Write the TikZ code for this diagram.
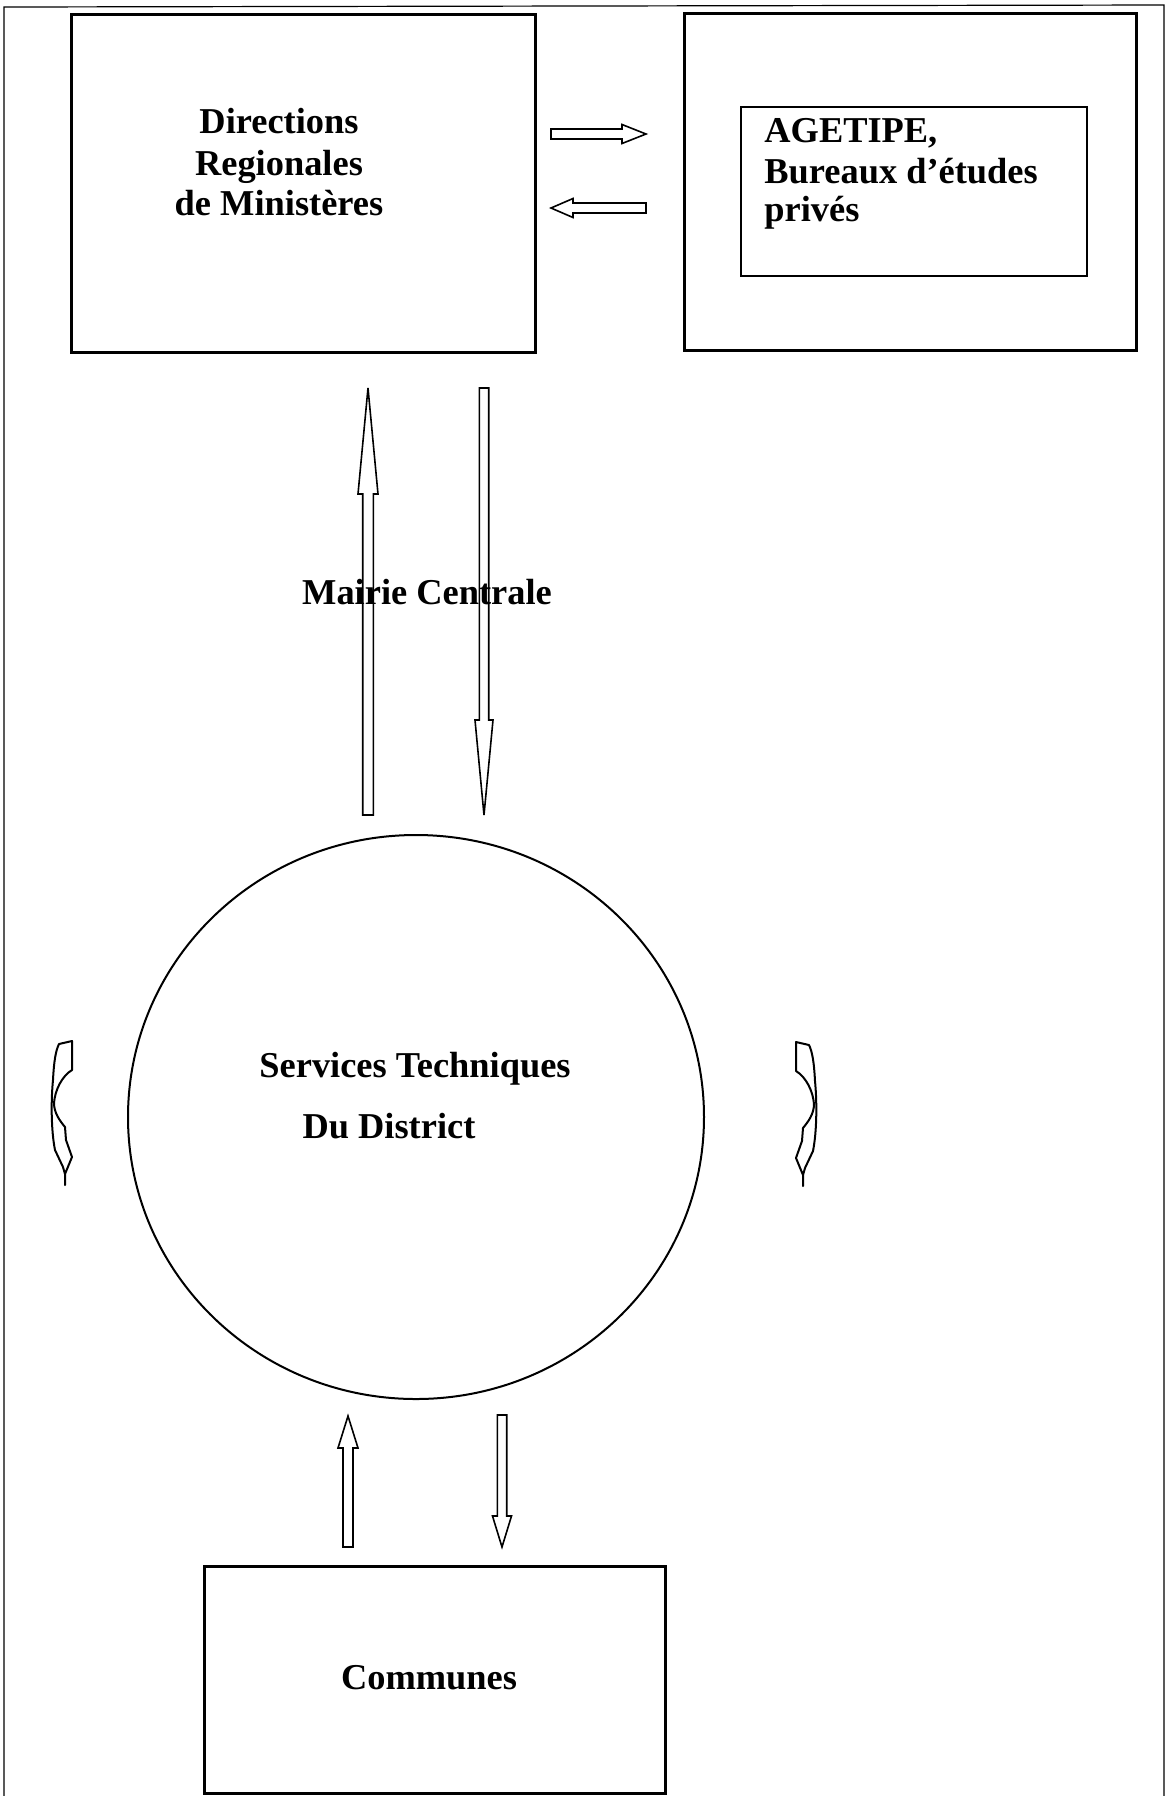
\documentclass[tikz,border=0pt]{standalone}
\usepackage{fontspec}
\setmainfont{Liberation Serif}
\usetikzlibrary{shapes.geometric}

% Outlined block arrows, vertical and horizontal
% \vblock{x}{y tail}{y head base}{y tip}{shaft half width}{head half width}
\newcommand\vblock[6]{%
  \draw[blk] ({#1-#5},#2) -- ({#1-#5},#3) -- ({#1-#6},#3) -- (#1,#4)
    -- ({#1+#6},#3) -- ({#1+#5},#3) -- ({#1+#5},#2) -- cycle;}
% \hblock{y}{x tail}{x head base}{x tip}{shaft half height}{head half height}
\newcommand\hblock[6]{%
  \draw[blk] (#2,{#1-#5}) -- (#3,{#1-#5}) -- (#3,{#1-#6}) -- (#4,#1)
    -- (#3,{#1+#6}) -- (#3,{#1+#5}) -- (#2,{#1+#5}) -- cycle;}

\begin{document}
\begin{tikzpicture}[x=0.5pt,y=-0.5pt,
  frame/.style={line width=0.6pt},
  box/.style={draw,line width=1.5pt,inner sep=0pt},
  thinbox/.style={draw,line width=0.7pt,inner sep=0pt},
  blk/.style={draw,line width=0.8pt,line join=miter},
  lbl/.style={font={\fontsize{18.2}{21}\selectfont\bfseries},inner sep=0pt,anchor=base},
  curly/.pic={
    \draw[blk,line width=1pt,line join=round]
      (-3,-69) -- (10,-72) -- (10,-43)
      .. controls (0,-37) and (-7,-23) .. (-8,-10)
      .. controls (-8,0) and (-2,8) .. (3,14)
      -- (4,27) -- (10,44) -- (3,61) -- (3,72) -- (3,61) -- (1,54) -- (-7,37)
      .. controls (-11,17) and (-11,-13) .. (-9,-33)
      .. controls (-8,-53) and (-6,-63) .. (-3,-69) -- cycle;
  }]
\useasboundingbox (0,0) rectangle (1167,1796);

% page frame (open at the bottom)
\draw[frame] (4,1796) -- (4,7) -- (1164,5) -- (1164,1796);

% boxes and the central circle
\node[box,minimum width=232pt,minimum height=169pt] (dir) at (303,183) {};
\node[box,minimum width=226pt,minimum height=168.5pt] (ext) at (910,181.5) {};
\node[thinbox,minimum width=173pt,minimum height=84.5pt] (age) at (914,191.5) {};
\node[draw,ellipse,line width=1pt,minimum width=288pt,minimum height=282pt,inner sep=0pt] (std) at (416,1117) {};
\node[box,minimum width=230.5pt,minimum height=113.5pt] (com) at (434.5,1679.5) {};

% labels
\node[lbl] (d1) at (279,133) {Directions};
\node[lbl] (d2) at (279,175) {Regionales};
\node[lbl] (d3) at (279,215) {de Ministères};
\node[lbl,anchor=base west] (a1) at (764,142) {AGETIPE,};
\node[lbl,anchor=base west] (a2) at (764,183) {Bureaux d’études};
\node[lbl,anchor=base west] (a3) at (764,221) {privés};
\node[lbl] (mc) at (427,604) {Mairie Centrale};
\node[lbl] (s1) at (415,1077) {Services Techniques};
\node[lbl] (s2) at (389,1138) {Du District};
\node[lbl] (cm) at (429,1689) {Communes};

% exchanges between the two upper boxes
\hblock{134}{551}{622}{646}{5}{9.5}
\hblock{208}{646}{573}{551}{5}{9.5}

% exchanges with the regional directions
\vblock{368}{815}{494}{388}{5.3}{10}
\vblock{484}{388}{720}{815}{4.7}{9}

% exchanges with the communes
\vblock{348}{1547}{1448}{1416}{5}{10}
\vblock{502}{1415}{1516}{1547}{4.7}{9.5}

% curved arrows on both sides of the circle
\pic at (62,1113) {curly};
\pic[xscale=-1] at (806,1114) {curly};
\end{tikzpicture}
\end{document}
